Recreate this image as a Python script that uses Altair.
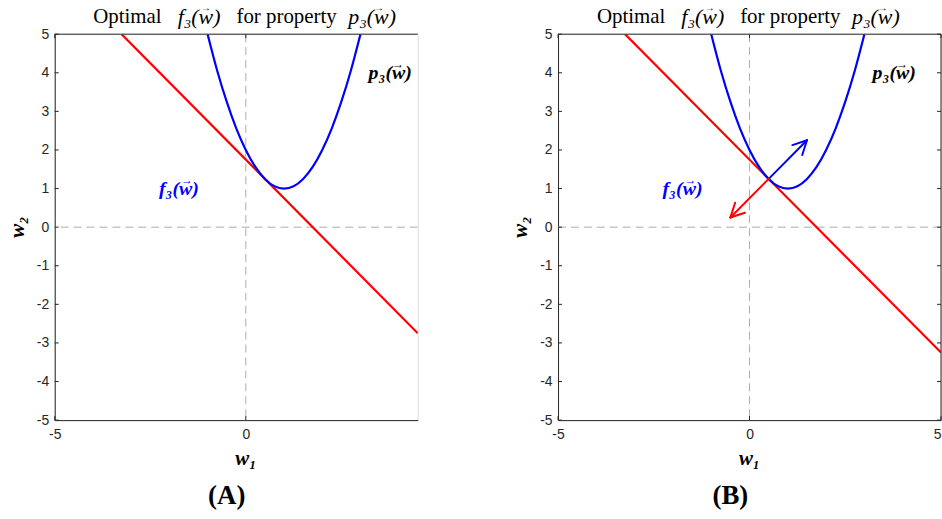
import altair as alt
import pandas as pd
import numpy as np

# ---- data ----
# parabola p3(w)
p_w1 = [-1.0, -0.75, -0.5, -0.25, 0.0, 0.25, 0.5, 0.75, 1.0, 1.25, 1.5, 1.75, 2.0, 2.25, 2.5, 2.75, 3.0]
p_w2 = [5.0, 4.06, 3.25, 2.56, 2.0, 1.56, 1.25, 1.06, 1.0, 1.06, 1.25, 1.56, 2.0, 2.56, 3.25, 4.06, 5.0]
# red line f3(w), panel A (cropped at 4.5) and panel B
fA_w1 = [-3.25, 4.5]
fA_w2 = [5.0, -2.75]
fB_w1 = [-3.25, 5.0]
fB_w2 = [5.0, -3.25]
# arrows in panel B: from tangent point to tips
arrow_base = [0.5, 1.25]
arrow_tips = [[1.5, 2.25], [-0.5, 0.25]]
arrow_colors = ["#0000ff", "#ff0000"]
# axis ticks
y_ticks = [-5, -4, -3, -2, -1, 0, 1, 2, 3, 4, 5]
xA_ticks = [-5, 0]
xB_ticks = [-5, 0, 5]
# labels
f_label_pos = [-1.75, 1.0]
p_label_pos = [3.78, 4.0]

H = 388
WA = 365
WB = 385
SERIF = "Liberation Serif"
SANS = "Liberation Sans"
AX = "#262626"


def arrow_segments():
    rows = []
    bx, by = arrow_base
    for (tx, ty), c in zip(arrow_tips, arrow_colors):
        rows.append(dict(x=bx, y=by, x2=tx, y2=ty, c=c))
        d = np.array([tx - bx, ty - by], dtype=float)
        d = d / np.linalg.norm(d)
        for ang in (np.radians(27), -np.radians(27)):
            r = np.array([d[0] * np.cos(ang) - d[1] * np.sin(ang),
                          d[0] * np.sin(ang) + d[1] * np.cos(ang)])
            ex, ey = np.array([tx, ty]) - 0.4 * r
            rows.append(dict(x=tx, y=ty, x2=float(ex), y2=float(ey), c=c))
    return pd.DataFrame(rows)


def one(txt):
    return pd.DataFrame({"t": [txt]})


def panel(xdom, xticks, fw1, fw2, W, label, arrows, full_box):
    xs = alt.Scale(domain=xdom, nice=False, zero=False)
    ys = alt.Scale(domain=[-5, 5], nice=False, zero=False)
    xax = alt.Axis(values=xticks, ticks=False, grid=False, title=None, labelPadding=7,
                   labelFont=SANS, labelFontSize=14, labelColor=AX, domainColor=AX,
                   labelFlush=False, labelOverlap=False, labelExpr="'' + datum.value",
                   labelAlign={"condition": {"test": "datum.value == 5", "value": "right"},
                               "value": "center"})
    yax = alt.Axis(values=y_ticks, ticks=False, grid=False, title=None, labelPadding=6,
                   labelFont=SANS, labelFontSize=14, labelColor=AX, domainColor=AX,
                   labelOverlap=False, labelExpr="'' + datum.value", labelFlush=False)

    def X(f):
        return alt.X(f, scale=xs, axis=xax)

    def Y(f):
        return alt.Y(f, scale=ys, axis=yax)

    layers = []
    # dashed zero lines
    layers.append(alt.Chart(pd.DataFrame({"v": [0]})).mark_rule(
        color="#ababab", strokeDash=[8, 5], strokeWidth=1).encode(x=X("v:Q")))
    layers.append(alt.Chart(pd.DataFrame({"v": [0]})).mark_rule(
        color="#ababab", strokeDash=[8, 5], strokeWidth=1).encode(y=Y("v:Q")))
    # red line
    layers.append(alt.Chart(pd.DataFrame({"w1": fw1, "w2": fw2})).mark_line(
        color="#ff0000", strokeWidth=2.2, clip=True).encode(x=X("w1:Q"), y=Y("w2:Q")))
    # parabola
    layers.append(alt.Chart(pd.DataFrame({"w1": p_w1, "w2": p_w2})).mark_line(
        color="#0000ff", strokeWidth=2.2, interpolate="monotone", clip=True).encode(
        x=X("w1:Q"), y=Y("w2:Q")))
    if arrows:
        layers.append(alt.Chart(arrow_segments()).mark_rule(
            strokeWidth=2, strokeCap="round").encode(
            x=X("x:Q"), y=Y("y:Q"), x2="x2:Q", y2="y2:Q",
            color=alt.Color("c:N", scale=None, legend=None)))
    # inward ticks
    tdf = pd.DataFrame({"t": y_ticks})
    layers.append(alt.Chart(tdf).mark_rule(color=AX, strokeWidth=1).encode(
        y=Y("t:Q"), x=alt.value(0), x2=alt.value(4)))
    xtdf = pd.DataFrame({"t": xticks})
    layers.append(alt.Chart(xtdf).mark_rule(color=AX, strokeWidth=1).encode(
        x=X("t:Q"), y=alt.value(H), y2=alt.value(H - 4)))
    layers.append(alt.Chart(xtdf).mark_rule(color=AX, strokeWidth=1).encode(
        x=X("t:Q"), y=alt.value(0), y2=alt.value(4)))
    # top border
    layers.append(alt.Chart(pd.DataFrame({"a": [0]})).mark_rule(color=AX, strokeWidth=1).encode(
        y=alt.value(0), x=alt.value(0), x2=alt.value(W)))
    if full_box:
        layers.append(alt.Chart(pd.DataFrame({"a": [0]})).mark_rule(color=AX, strokeWidth=1).encode(
            x=alt.value(W), y=alt.value(0), y2=alt.value(H)))
        layers.append(alt.Chart(tdf).mark_rule(color=AX, strokeWidth=1).encode(
            y=Y("t:Q"), x=alt.value(W - 4), x2=alt.value(W)))
    # curve labels with vector arrows
    for pos, txt, col, clip in ((f_label_pos, "f₃(w)", "#0000ff", False),
                                (p_label_pos, "p₃(w)", "#000000", True)):
        d = pd.DataFrame({"x": [pos[0]], "y": [pos[1]], "t": [txt], "a": ["→"]})
        layers.append(alt.Chart(d).mark_text(
            font=SERIF, fontSize=20, fontWeight="bold", fontStyle="italic",
            color=col, clip=clip).encode(x=X("x:Q"), y=Y("y:Q"), text="t:N"))
        layers.append(alt.Chart(d).mark_text(
            font=SERIF, fontSize=12, fontWeight="bold", dx=8, dy=-9,
            color=col, clip=clip).encode(x=X("x:Q"), y=Y("y:Q"), text="a:N"))
    # title pieces (centered offsets from w1 = 0)
    pieces = [("Optimal", "normal", -119, 21, -17), ("f₃(w)", "italic", -47, 22, -17),
              ("for property", "normal", 41, 21, -17), ("p₃(w)", "italic", 127, 22, -17),
              ("→", "normal", -40, 10, -26), ("→", "normal", 134, 10, -26)]
    for txt, sty, dx, fs, yv in pieces:
        layers.append(alt.Chart(one(txt)).mark_text(
            font=SERIF, fontSize=fs, fontStyle=sty, align="center", baseline="middle",
            dx=dx, color="#000000").encode(
            x=X("z:Q"), y=alt.value(yv), text="t:N").transform_calculate(z="0"))
    # axis titles
    layers.append(alt.Chart(one("w₁")).mark_text(
        font=SERIF, fontSize=21, fontWeight="bold", fontStyle="italic", color="#000000").encode(
        x=X("z:Q"), y=alt.value(H + 39), text="t:N").transform_calculate(z="0"))
    layers.append(alt.Chart(one("w₂")).mark_text(
        font=SERIF, fontSize=21, fontWeight="bold", fontStyle="italic", angle=270,
        color="#000000").encode(
        x=alt.value(-37), y=Y("z:Q"), text="t:N").transform_calculate(z="0"))
    # panel label
    layers.append(alt.Chart(one(label)).mark_text(
        font=SERIF, fontSize=27, fontWeight="bold", color="#000000").encode(
        x=X("z:Q"), y=alt.value(H + 76), text="t:N").transform_calculate(z="-0.5"))

    return alt.layer(*layers).properties(width=W, height=H)


left = panel([-5, 4.5], xA_ticks, fA_w1, fA_w2, WA, "(A)", False, False)
right = panel([-5, 5], xB_ticks, fB_w1, fB_w2, WB, "(B)", True, True)

chart = alt.hconcat(left, right, spacing=91).properties(
    padding={"left": 6, "top": 1, "right": 0, "bottom": 0}
).configure_view(stroke=None).configure(background="white")

chart.save("out.html", embed_options={"renderer": "svg", "actions": False})
